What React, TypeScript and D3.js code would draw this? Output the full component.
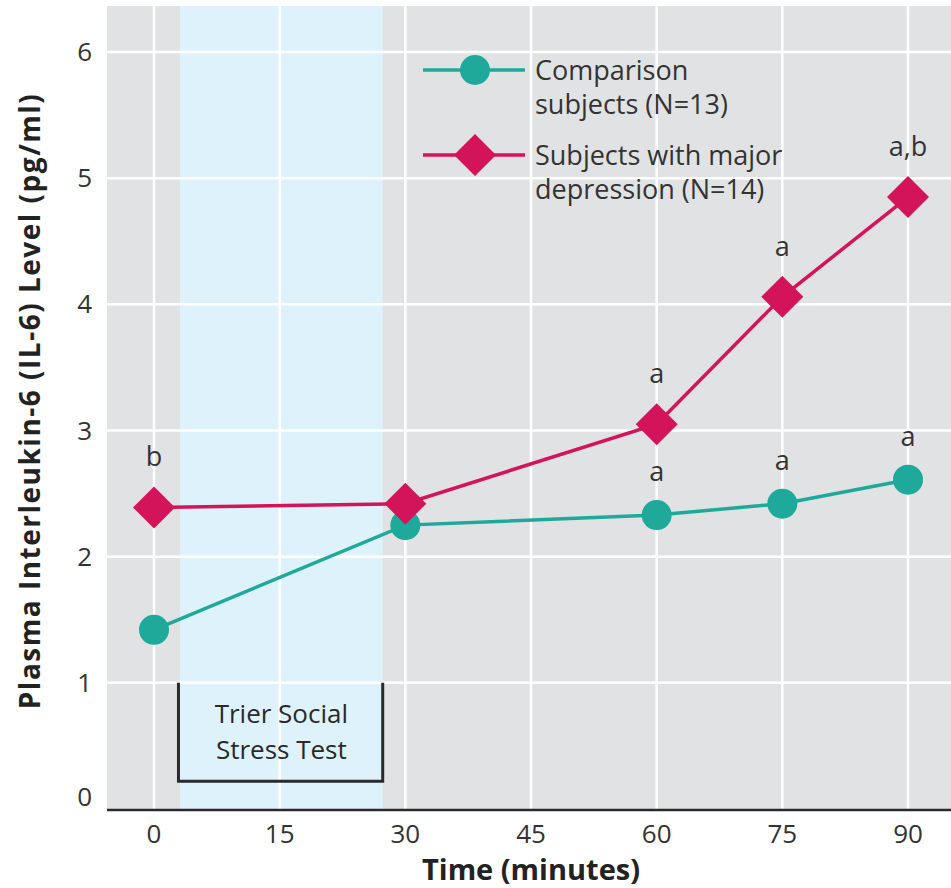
import React from "react";
import * as d3 from "d3";

const times = [0, 30, 60, 75, 90];
const comparison = [1.42, 2.25, 2.33, 2.42, 2.61];
const depression = [2.39, 2.42, 3.05, 4.06, 4.85];
const compLabels = ["", "", "a", "a", "a"];
const depLabels = ["b", "", "a", "a", "a,b"];
const xTicks = [0, 15, 30, 45, 60, 75, 90];
const yTicks = [0, 1, 2, 3, 4, 5, 6];
const stressWindow = [3.1, 27.3];
const legendItems = ["Comparison|subjects (N=13)", "Subjects with major|depression (N=14)"];

const W = 951, H = 888;
const TEAL = "#1fa99a";
const RED = "#d4145a";
const FONT = "'Open Sans', 'Noto Sans', sans-serif";

export default function App() {
  const x = d3.scaleLinear().domain([0, 90]).range([154, 908]);
  const y = d3.scaleLinear().domain([0, 6]).range([809, 52]);
  const left = 107, top = 6, right = W, bottom = 809;
  const line = d3.line<number>().x((_, i) => x(times[i])).y((d) => y(d));
  const diamond = (cx: number, cy: number, r: number) =>
    `M${cx},${cy - r}L${cx + r},${cy}L${cx},${cy + r}L${cx - r},${cy}Z`;

  return (
    <svg width={W} height={H} style={{ display: "block", position: "absolute", left: 0, top: 0 }} fontFamily={FONT}>
      <rect x={0} y={0} width={W} height={H} fill="#fff" />
      <rect x={left} y={top} width={right - left} height={bottom - top} fill="#e1e2e4" />
      <rect x={x(stressWindow[0])} y={top} width={x(stressWindow[1]) - x(stressWindow[0])} height={bottom - top} fill="#def2fc" />
      {yTicks.filter((t) => t > 0).map((t) => (
        <line key={"gy" + t} x1={left} x2={right} y1={y(t)} y2={y(t)} stroke="#fff" strokeWidth={2.5} />
      ))}
      {xTicks.map((t) => (
        <line key={"gx" + t} x1={x(t)} x2={x(t)} y1={top} y2={bottom} stroke="#fff" strokeWidth={2.5} />
      ))}
      <line x1={left} x2={right} y1={bottom + 1} y2={bottom + 1} stroke="#2a2a2a" strokeWidth={2.5} />
      {/* stress bracket */}
      <path
        d={`M${x(stressWindow[0]) - 1.5},${y(1)}V${y(0.22)}H${x(stressWindow[1])}V${y(1)}`}
        fill="none" stroke="#2a2a2a" strokeWidth={3}
      />
      <text x={(x(stressWindow[0]) + x(stressWindow[1])) / 2} y={y(0.68)} textAnchor="middle" fontSize={26} fill="#2a2a2a">Trier Social</text>
      <text x={(x(stressWindow[0]) + x(stressWindow[1])) / 2} y={y(0.4)} textAnchor="middle" fontSize={26} fill="#2a2a2a">Stress Test</text>
      {/* ticks */}
      {yTicks.map((t) => (
        <text key={"ty" + t} x={92} y={t === 0 ? y(t) - 3 : y(t) + 9} textAnchor="end" fontSize={26} fill="#333">{t}</text>
      ))}
      {xTicks.map((t) => (
        <text key={"tx" + t} x={x(t)} y={843} textAnchor="middle" fontSize={26} fill="#333">{t}</text>
      ))}
      <text x={531} y={880} textAnchor="middle" fontSize={29} fontWeight="bold" fill="#222">Time (minutes)</text>
      <text transform={`translate(40,401) rotate(-90)`} textAnchor="middle" fontSize={28} fontWeight="bold" letterSpacing={1.5} fill="#222">
        Plasma Interleukin-6 (IL-6) Level (pg/ml)
      </text>
      {/* series */}
      <path d={line(comparison) || ""} fill="none" stroke={TEAL} strokeWidth={3.5} />
      <path d={line(depression) || ""} fill="none" stroke={RED} strokeWidth={3.5} />
      {comparison.map((v, i) => (
        <circle key={"c" + i} cx={x(times[i])} cy={y(v)} r={15} fill={TEAL} />
      ))}
      {depression.map((v, i) => (
        <path key={"d" + i} d={diamond(x(times[i]), y(v), 21)} fill={RED} />
      ))}
      {compLabels.map((l, i) => l ? (
        <text key={"cl" + i} x={x(times[i])} y={y(comparison[i]) - 34} textAnchor="middle" fontSize={27} fill="#333">{l}</text>
      ) : null)}
      {depLabels.map((l, i) => l ? (
        <text key={"dl" + i} x={x(times[i])} y={y(depression[i]) - 41} textAnchor="middle" fontSize={27} fill="#333">{l}</text>
      ) : null)}
      {/* legend */}
      {legendItems.map((item, i) => {
        const ly = i === 0 ? 70 : 155;
        const [l1, l2] = item.split("|");
        return (
          <g key={"lg" + i}>
            <line x1={423} x2={525} y1={ly} y2={ly} stroke={i === 0 ? TEAL : RED} strokeWidth={3.5} />
            {i === 0 ? <circle cx={475} cy={ly} r={15} fill={TEAL} /> : <path d={diamond(475, ly, 21)} fill={RED} />}
            <text x={535} y={ly + 10} fontSize={27} fill="#333">{l1}</text>
            <text x={535} y={ly + 44} fontSize={27} fill="#333">{l2}</text>
          </g>
        );
      })}
    </svg>
  );
}
